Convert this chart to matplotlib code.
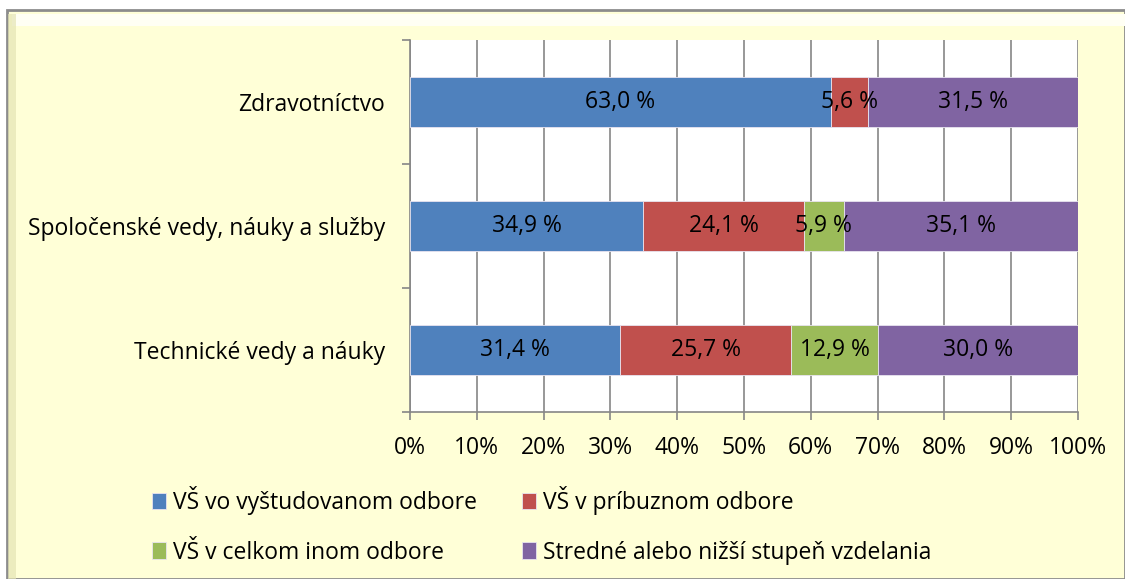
import matplotlib
matplotlib.use("Agg")
import matplotlib.pyplot as plt
from matplotlib.patches import Rectangle
import numpy as np

plt.rcParams['font.family'] = ['Open Sans', 'DejaVu Sans']

categories = ["Technické vedy a náuky", "Spoločenské vedy, náuky a služby", "Zdravotníctvo"]
series_names = ["VŠ vo vyštudovanom odbore", "VŠ v príbuznom odbore",
                "VŠ v celkom inom odbore", "Stredné alebo nižší stupeň vzdelania"]
vs_vystudovany = [31.4, 34.9, 63.0]
vs_pribuzny = [25.7, 24.1, 5.6]
vs_iny = [12.9, 5.9, 0.0]
stredne = [30.0, 35.1, 31.5]
x_ticks = [0, 10, 20, 30, 40, 50, 60, 70, 80, 90, 100]
x_tick_labels = ["0%", "10%", "20%", "30%", "40%", "50%", "60%", "70%", "80%", "90%", "100%"]

colors = ["#4F81BD", "#C0504D", "#9BBB59", "#8064A2"]
series = [vs_vystudovany, vs_pribuzny, vs_iny, stredne]
FS = 16.5

W, H = 1125, 579
fig = plt.figure(figsize=(W / 100, H / 100), dpi=100)
fig.patch.set_facecolor("white")

# chart area background with border
bg = Rectangle((7 / W, 0), 1 - 7 / W, 1 - 10 / H, transform=fig.transFigure,
               facecolor="#FFFFD7", edgecolor="#8C8C8C", linewidth=2, zorder=-10)
fig.patches.append(bg)
# bevel highlight / shadow
hl = Rectangle((12 / W, 1 - 26 / H), 1 - 12 / W, 12 / H, transform=fig.transFigure,
               facecolor="#FFFFF4", edgecolor="none", zorder=-9)
fig.patches.append(hl)
sh = Rectangle((8 / W, 0), 8 / W, 1 - 14 / H, transform=fig.transFigure,
               facecolor="#E4E4B4", edgecolor="none", zorder=-9, alpha=0.7)
fig.patches.append(sh)

ax = fig.add_axes([410 / W, 1 - 412 / H, (1078 - 410) / W, (412 - 40) / H])
ax.set_facecolor("white")

y = np.arange(len(categories))
left = np.zeros(len(categories))
handles = []
for vals, c, name in zip(series, colors, series_names):
    vals = np.array(vals)
    b = ax.barh(y, vals, left=left, height=0.4, color=c, label=name, zorder=3,
                edgecolor="#E8E4F0", linewidth=0.6)
    handles.append(b)
    for yi, l, v in zip(y, left, vals):
        if v > 0:
            ax.text(l + v / 2, yi, f"{v:.1f} %".replace(".", ","), ha="center", va="center",
                    fontsize=FS, color="black", zorder=4)
    left += vals

ax.set_xlim(0, 100)
ax.set_ylim(-0.5, 2.5)
ax.set_xticks(x_ticks)
ax.set_xticklabels(x_tick_labels, fontsize=FS)
ax.set_yticks(y)
ax.set_yticklabels(categories, fontsize=FS)
ax.set_yticks([-0.5, 0.5, 1.5, 2.5], minor=True)
ax.tick_params(axis="y", which="major", length=0, pad=18)
ax.tick_params(axis="y", which="minor", length=6, color="#868686", width=1.2, direction="out")
ax.tick_params(axis="x", length=6, color="#868686", width=1.2, direction="out", pad=11)
ax.xaxis.grid(True, color="#868686", linewidth=1.2, zorder=0)
ax.set_axisbelow(True)
for s in ["top", "right"]:
    ax.spines[s].set_visible(False)
for s in ["left", "bottom"]:
    ax.spines[s].set_color("#868686")
    ax.spines[s].set_linewidth(1.2)

order = [0, 2, 1, 3]
leg = fig.legend([handles[i] for i in order], [series_names[i] for i in order],
                 ncol=2, loc="upper left", bbox_to_anchor=(152 / W, 1 - 486 / H),
                 borderaxespad=0, borderpad=0,
                 frameon=False, fontsize=FS, handlelength=0.62, handleheight=0.72,
                 handletextpad=0.3, columnspacing=1.95, labelspacing=1.12)

fig.savefig("out.png", dpi=100, facecolor=fig.get_facecolor())
